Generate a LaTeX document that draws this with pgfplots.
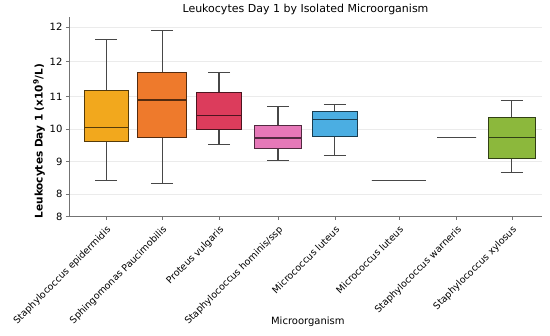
\documentclass[border=0pt]{standalone}
\usepackage{fontspec}
\setmainfont{DejaVu Sans}
\usepackage{pgfplots}
\pgfplotsset{compat=1.18}
\usepgfplotslibrary{statistics}
\definecolor{c1}{HTML}{F2A81D}
\definecolor{c2}{HTML}{EE7A2C}
\definecolor{c3}{HTML}{DC3C5C}
\definecolor{c4}{HTML}{E678B8}
\definecolor{c5}{HTML}{4BAEE2}
\definecolor{c8}{HTML}{8CB83C}
\begin{document}
\begin{tikzpicture}
\path[use as bounding box] (0,0) rectangle (550pt,336pt);
\begin{axis}[
 at={(69pt,119.3pt)}, anchor=south west,
 width=473pt, height=200pt, scale only axis,
 xmin=-0.64, xmax=7.52, ymin=7.342, ymax=13.40,
 axis x line*=bottom, axis y line*=left,
 axis line style={black!55, line width=0.8pt},
 xtick={0,0.966,1.948,2.966,3.948,5.05,6.05,7.0},
 xticklabels={Staphylococcus epidermidis, Sphingomonas Paucimobilis, Proteus vulgaris, Staphylococcus hominis/ssp, Micrococcus luteus, Micrococcus luteus, Staphylococcus warneris, Staphylococcus xylosus},
 ytick={7.342,8.03,9.01,10,10.98,12.04,13.08},
 yticklabels={8,8,9,10,11,12,12},
 tick align=outside, major tick length=3pt,
 tick style={black!55, line width=0.6pt},
 ymajorgrids, grid style={black!8, line width=0.6pt},
 xticklabel style={rotate=45, anchor=north east, font=\fontsize{9.5}{11}\selectfont, inner sep=1pt},
 xticklabel shift=4pt,
 yticklabel style={font=\fontsize{10}{12}\selectfont},
 /pgf/number format/assume math mode=true,
 title={Leukocytes Day 1 by Isolated Microorganism},
 title style={font=\fontsize{11}{13}\selectfont, yshift=-8pt},
 xlabel={Microorganism},
 xlabel style={at={(axis description cs:0.505,-0.5265)}, anchor=center, font=\fontsize{10}{12}\selectfont},
 ylabel={Leukocytes Day 1 (x10\textsuperscript{9}/L)},
 ylabel style={at={(axis description cs:-0.0634,0.378)}, anchor=center, font=\bfseries\fontsize{10.5}{12}\selectfont},
 boxplot/draw direction=y,
 boxplot/every whisker/.style={draw=black!72, line width=1.1pt},
 boxplot/every median/.style={line width=1.4pt},
 clip=false,
]
\addplot[boxplot prepared={draw position=0, median=10.05, upper quartile=11.16, lower quartile=9.62, upper whisker=12.72, lower whisker=8.45, box extend=0.76, whisker extend=0.38}, fill=c1, draw=c1!35!black, line width=0.9pt] coordinates {};
\addplot[boxplot prepared={draw position=0.966, median=10.88, upper quartile=11.72, lower quartile=9.73, upper whisker=12.98, lower whisker=8.35, box extend=0.845, whisker extend=0.38}, fill=c2, draw=c2!35!black, line width=0.9pt] coordinates {};
\addplot[boxplot prepared={draw position=1.948, median=10.40, upper quartile=11.12, lower quartile=9.98, upper whisker=11.71, lower whisker=9.52, box extend=0.79, whisker extend=0.38}, fill=c3, draw=c3!35!black, line width=0.9pt] coordinates {};
\addplot[boxplot prepared={draw position=2.966, median=9.72, upper quartile=10.12, lower quartile=9.40, upper whisker=10.67, lower whisker=9.04, box extend=0.81, whisker extend=0.38}, fill=c4, draw=c4!35!black, line width=0.9pt] coordinates {};
\addplot[boxplot prepared={draw position=3.948, median=10.28, upper quartile=10.52, lower quartile=9.76, upper whisker=10.75, lower whisker=9.19, box extend=0.78, whisker extend=0.38}, fill=c5, draw=c5!35!black, line width=0.9pt] coordinates {};
\addplot[boxplot prepared={draw position=5.05, median=8.43, upper quartile=8.43, lower quartile=8.43, upper whisker=8.43, lower whisker=8.43, box extend=0.93, whisker extend=0.93}, draw=black!72, line width=1.1pt] coordinates {};
\addplot[boxplot prepared={draw position=6.05, median=9.74, upper quartile=9.74, lower quartile=9.74, upper whisker=9.74, lower whisker=9.74, box extend=0.67, whisker extend=0.67}, draw=black!72, line width=1.1pt] coordinates {};
\addplot[boxplot prepared={draw position=7.0, median=9.74, upper quartile=10.36, lower quartile=9.12, upper whisker=10.86, lower whisker=8.68, box extend=0.80, whisker extend=0.38}, fill=c8, draw=c8!35!black, line width=0.9pt] coordinates {};
\end{axis}
\end{tikzpicture}
\end{document}
